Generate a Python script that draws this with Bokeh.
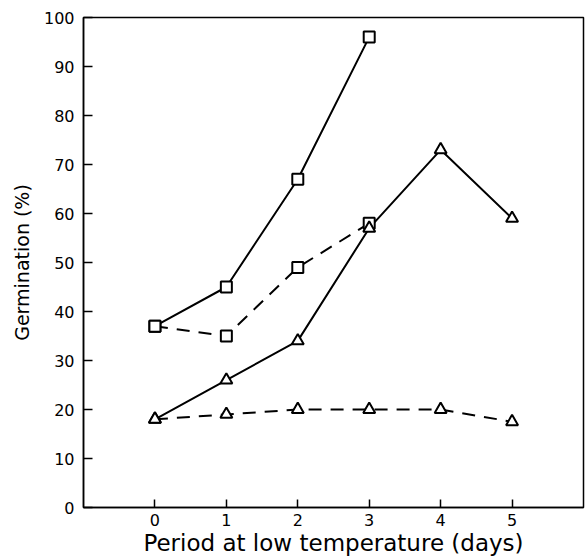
from bokeh.plotting import figure
from bokeh.embed import file_html
from bokeh.resources import INLINE
from bokeh.models import FixedTicker, Range1d

days = [0, 1, 2, 3, 4, 5]
sq_solid = [37, 45, 67, 96]
sq_dashed = [37, 35, 49, 58]
tri_solid = [18, 26, 34, 57, 73, 59]
tri_dashed = [18, 19, 20, 20, 20, 17.5]
y_ticks = [0, 10, 20, 30, 40, 50, 60, 70, 80, 90, 100]

FONT = "DejaVu Sans"

p = figure(frame_width=500, frame_height=490, output_backend="svg", toolbar_location=None,
           x_range=Range1d(-1, 6), y_range=Range1d(0, 100),
           min_border_left=83, min_border_top=17, min_border_right=2, min_border_bottom=53)
p.background_fill_color = "white"
p.border_fill_color = "white"
p.outline_line_color = "black"
p.outline_line_width = 1.5
p.grid.visible = False

for ax in (p.xaxis[0], p.yaxis[0]):
    ax.axis_line_color = "black"
    ax.axis_line_width = 1.5
    ax.major_tick_line_color = "black"
    ax.major_tick_line_width = 1.5
    ax.major_tick_out = 0
    ax.minor_tick_line_color = None
    ax.major_label_text_color = "black"
    ax.major_label_text_font = FONT
    ax.axis_label_text_font = FONT
    ax.axis_label_text_font_style = "normal"
    ax.axis_label_text_color = "black"

p.xaxis.ticker = FixedTicker(ticks=days)
p.xaxis.major_tick_in = 8
p.xaxis.major_label_text_font_size = "16px"
p.xaxis.major_label_standoff = 6
p.xaxis.axis_label = "Period at low temperature (days)"
p.xaxis.axis_label_text_font_size = "23px"
p.xaxis.axis_label_standoff = 1

p.yaxis.ticker = FixedTicker(ticks=y_ticks)
p.yaxis.major_tick_in = 9
p.yaxis.major_label_text_font_size = "16px"
p.yaxis.major_label_standoff = 9
p.yaxis.axis_label = "Germination (%)"
p.yaxis.axis_label_text_font_size = "19px"
p.yaxis.axis_label_standoff = 8

dash = "13 9"
p.line(days[:4], sq_solid, line_color="black", line_width=2)
p.line(days[:4], sq_dashed, line_color="black", line_width=2, line_dash=dash)
p.line(days, tri_solid, line_color="black", line_width=2)
p.line(days, tri_dashed, line_color="black", line_width=2, line_dash=dash)

p.scatter(days[:4], sq_solid, marker="square", size=11, fill_color="white", line_color="black", line_width=2)
p.scatter(days[:4], sq_dashed, marker="square", size=11, fill_color="white", line_color="black", line_width=2)
p.scatter(days, tri_solid, marker="triangle", size=12, fill_color="white", line_color="black", line_width=2)
p.scatter(days, tri_dashed, marker="triangle", size=12, fill_color="white", line_color="black", line_width=2)

open("out.html", "w").write(file_html(p, INLINE))
